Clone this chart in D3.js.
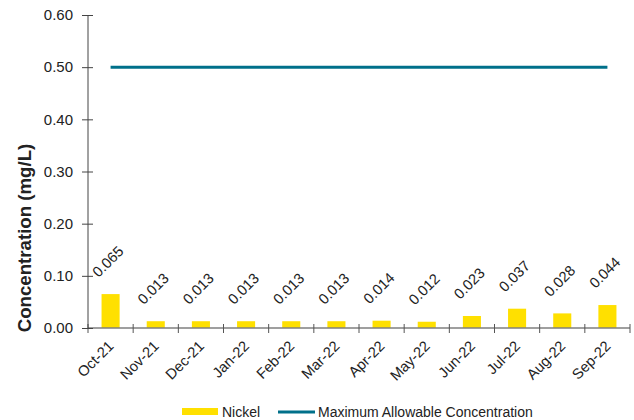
<!DOCTYPE html>
<html>
<head>
<meta charset="utf-8">
<script src="https://cdn.jsdelivr.net/npm/d3@7"></script>
<style>
  body { margin: 0; background: #fff; }
  text { font-family: "Liberation Sans", Arial, sans-serif; fill: #222; }
</style>
</head>
<body>
<svg width="634" height="420"></svg>
<script>
// data
months = ["Oct-21", "Nov-21", "Dec-21", "Jan-22", "Feb-22", "Mar-22",
  "Apr-22", "May-22", "Jun-22", "Jul-22", "Aug-22", "Sep-22"];
nickel = [0.065, 0.013, 0.013, 0.013, 0.013, 0.013, 0.014, 0.012, 0.023, 0.037, 0.028, 0.044];
maxAllowable = [0.50, 0.50, 0.50, 0.50, 0.50, 0.50, 0.50, 0.50, 0.50, 0.50, 0.50, 0.50];
yTicks = [0, 0.1, 0.2, 0.3, 0.4, 0.5, 0.6];

svg = d3.select('svg');

margin = { top: 15, right: 4, bottom: 92, left: 88 };
width = 634 - margin.left - margin.right;
height = 420 - margin.top - margin.bottom;

g = svg.append('g')
  .attr('transform', `translate(${margin.left},${margin.top})`);

x = d3.scaleBand()
  .domain(months)
  .range([0, width])
  .paddingInner(0)
  .paddingOuter(0);

y = d3.scaleLinear()
  .domain([0, 0.6])
  .range([height, 0]);

// bars
g.selectAll('.bar')
  .data(nickel)
  .enter().append('rect')
    .attr('class', 'bar')
    .attr('x', (d, i) => x(months[i]) + x.bandwidth() * 0.3)
    .attr('y', d => y(d))
    .attr('width', x.bandwidth() * 0.4)
    .attr('height', d => height - y(d))
    .attr('fill', '#FFE000');

// value labels
g.selectAll('.val')
  .data(nickel)
  .enter().append('text')
    .attr('class', 'val')
    .attr('transform', (d, i) => {
      cx = x(months[i]) + x.bandwidth() / 2 - 12;
      cy = y(d) - 16;
      return `translate(${cx},${cy}) rotate(-45)`;
    })
    .style('font-size', '14.67px')
    .text(d => d.toFixed(3));

// max allowable line
line = d3.line()
  .x((d, i) => x(months[i]) + x.bandwidth() / 2)
  .y(d => y(d));

g.append('path')
  .datum(maxAllowable)
  .attr('d', line)
  .attr('fill', 'none')
  .attr('stroke', '#00708A')
  .attr('stroke-width', 3);

// x axis
xAxis = g.append('g')
  .attr('transform', `translate(0,${height})`);
xAxis.append('line')
  .attr('x1', 0).attr('x2', width)
  .attr('stroke', '#7f7f7f').attr('stroke-width', 1.5);
xAxis.selectAll('.xt')
  .data(d3.range(months.length + 1))
  .enter().append('line')
    .attr('x1', i => i * x.step()).attr('x2', i => i * x.step())
    .attr('y1', -4).attr('y2', 5)
    .attr('stroke', '#555');
xAxis.selectAll('.xl')
  .data(months)
  .enter().append('text')
    .attr('text-anchor', 'end')
    .attr('transform', d => `translate(${x(d) + x.bandwidth() / 2 + 4},${19}) rotate(-45)`)
    .style('font-size', '14.67px')
    .text(d => d);

// y axis
yAxis = g.append('g')
  .call(d3.axisLeft(y).tickValues(yTicks).tickFormat(d3.format('.2f')).tickSize(5).tickPadding(10));
yAxis.select('.domain').remove();
yAxis.append('line')
  .attr('y1', 0).attr('y2', height)
  .attr('stroke', '#444');
yAxis.selectAll('.tick line').attr('x2', 5).attr('x1', -6).attr('stroke', '#444');
yAxis.selectAll('.tick text')
  .style('font-size', '15px')
  .style('font-family', '"Liberation Sans", Arial, sans-serif')
  .attr('fill', '#222');

// y title
svg.append('text')
  .attr('transform', 'translate(31,238) rotate(-90)')
  .attr('text-anchor', 'middle')
  .style('font-size', '18.67px')
  .style('font-weight', 'bold')
  .text('Concentration (mg/L)');

// legend
legend = svg.append('g');
legend.append('rect')
  .attr('x', 182).attr('y', 408).attr('width', 36).attr('height', 7)
  .attr('fill', '#FFE000');
legend.append('text')
  .attr('x', 222).attr('y', 417)
  .style('font-size', '14px')
  .text('Nickel');
legend.append('line')
  .attr('x1', 278).attr('x2', 315).attr('y1', 412).attr('y2', 412)
  .attr('stroke', '#00708A').attr('stroke-width', 3);
legend.append('text')
  .attr('x', 318).attr('y', 417)
  .style('font-size', '14px')
  .text('Maximum Allowable Concentration');
</script>
</body>
</html>
